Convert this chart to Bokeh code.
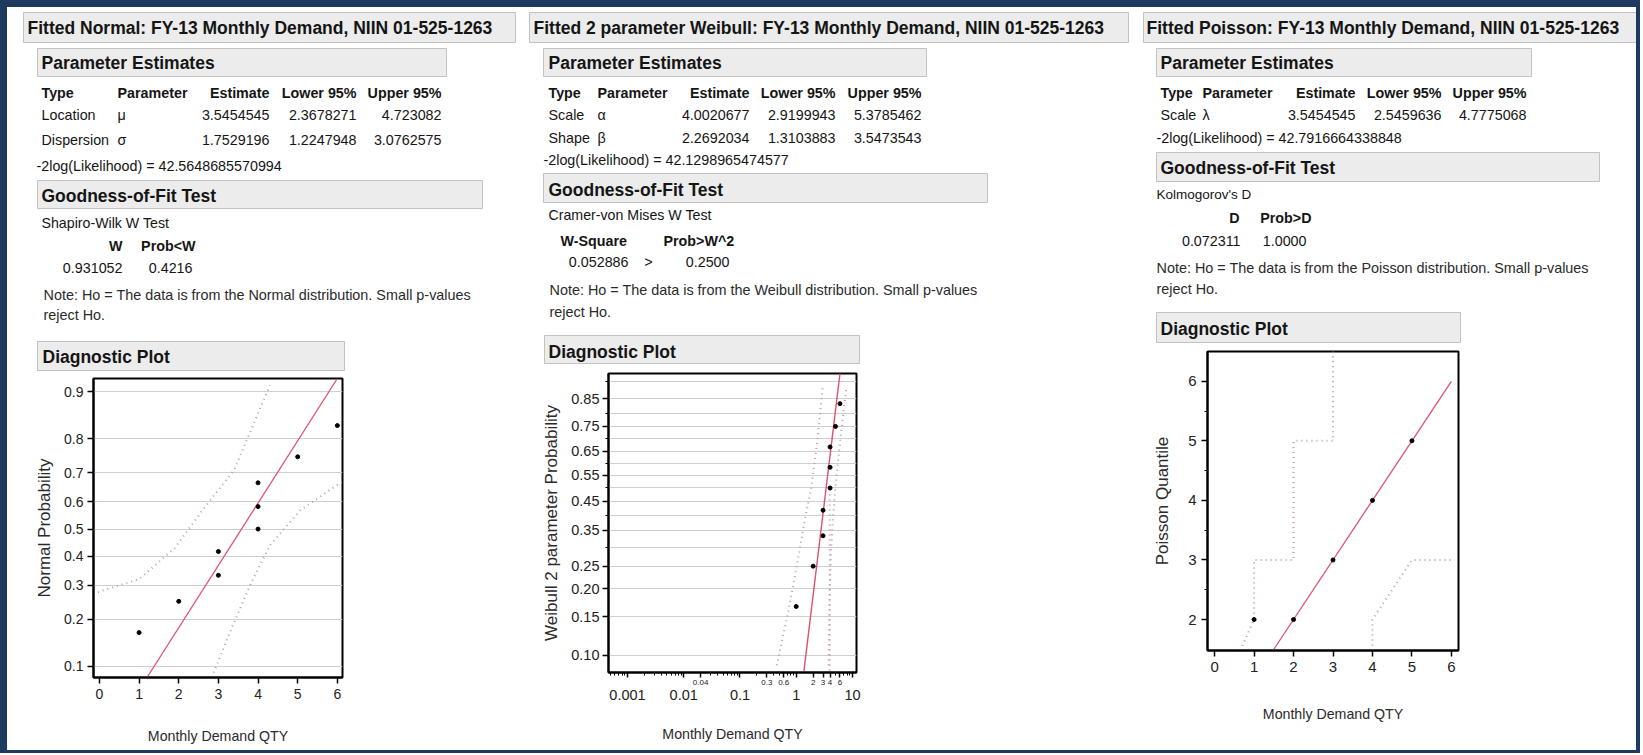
import math
from bokeh.plotting import figure
from bokeh.models import Range1d, FixedTicker, Label, LogAxis
from bokeh.layouts import row, column
from bokeh.embed import file_html
from bokeh.resources import INLINE

# ---------------- data ----------------
panel_titles = [
    "Fitted Normal:  FY-13 Monthly Demand,  NIIN 01-525-1263",
    "Fitted 2 parameter Weibull:  FY-13 Monthly Demand,  NIIN 01-525-1263",
    "Fitted Poisson:  FY-13 Monthly Demand,  NIIN 01-525-1263",
]
section_titles = ["Parameter Estimates", "Goodness-of-Fit Test", "Diagnostic Plot"]
table_header = ["Type", "Parameter", "Estimate", "Lower 95%", "Upper 95%"]
normal_params = [["Location", "μ", "3.5454545", "2.3678271", "4.723082"],
                 ["Dispersion", "σ", "1.7529196", "1.2247948", "3.0762575"]]
weibull_params = [["Scale", "α", "4.0020677", "2.9199943", "5.3785462"],
                  ["Shape", "β", "2.2692034", "1.3103883", "3.5473543"]]
poisson_params = [["Scale", "λ", "3.5454545", "2.5459636", "4.7775068"]]
neg2loglik = ["42.5648685570994", "42.1298965474577", "42.7916664338848"]
gof_test_names = ["Shapiro-Wilk W Test", "Cramer-von Mises W Test", "Kolmogorov's D"]
normal_gof_head = ["W", "Prob<W"]
normal_gof_vals = ["0.931052", "0.4216"]
weibull_gof_head = ["W-Square", "Prob>W^2"]
weibull_gof_vals = ["0.052886", ">", "0.2500"]
poisson_gof_head = ["D", "Prob>D"]
poisson_gof_vals = ["0.072311", "1.0000"]
dist_names = ["Normal", "Weibull", "Poisson"]
x_axis_title = "Monthly Demand QTY"
y_axis_titles = ["Normal Probability", "Weibull 2 parameter Probability", "Poisson Quantile"]

# Normal diagnostic plot
demand_qty = [1, 2, 3, 3, 4, 4, 4, 5, 6]
normal_prob = [0.167, 0.250, 0.333, 0.417, 0.500, 0.583, 0.667, 0.750, 0.833]
normal_fit_qty = [1.2, 6.0]
normal_fit_prob = [0.083, 0.920]
normal_upper_qty = [-0.15, 0.0, 1.0, 1.9, 2.6, 3.4, 4.0, 4.3]
normal_upper_prob = [0.27, 0.28, 0.32, 0.43, 0.57, 0.71, 0.86, 0.91]
normal_lower_qty = [2.88, 3.3, 3.8, 4.3, 5.07, 6.0, 6.13]
normal_lower_prob = [0.09, 0.17, 0.30, 0.44, 0.57, 0.66, 0.67]
normal_prob_ticks = [0.1, 0.2, 0.3, 0.4, 0.5, 0.6, 0.7, 0.8, 0.9]
normal_prob_range = [0.083, 0.920]
normal_qty_range = [-0.15, 6.13]
qty_ticks = [0, 1, 2, 3, 4, 5, 6]

# Weibull diagnostic plot
weibull_qty = [1, 2, 3, 3, 4, 4, 4, 5, 6]
weibull_prob = [0.167, 0.250, 0.333, 0.417, 0.500, 0.583, 0.667, 0.750, 0.833]
weibull_fit_qty = [1.36, 6.0]
weibull_fit_prob = [0.083, 0.919]
weibull_band1_qty = [0.45, 0.71, 1.04, 1.41, 1.85, 2.43, 2.98]
weibull_band1_prob = [0.09, 0.155, 0.256, 0.38, 0.50, 0.71, 0.89]
weibull_band2_qty = [3.76, 3.92, 4.19, 4.80, 5.51, 6.31, 7.74]
weibull_band2_prob = [0.09, 0.18, 0.30, 0.465, 0.60, 0.73, 0.88]
weibull_band3_qty = [3.95, 3.95]
weibull_band3_prob = [0.085, 0.50]
weibull_prob_ticks = [0.10, 0.15, 0.20, 0.25, 0.35, 0.45, 0.55, 0.65, 0.75, 0.85]
weibull_prob_tick_text = ["0.10", "0.15", "0.20", "0.25", "0.35", "0.45", "0.55", "0.65", "0.75", "0.85"]
weibull_prob_minor = [0.30, 0.40, 0.50, 0.60, 0.70, 0.80, 0.90]
weibull_prob_range = [0.0833, 0.919]
weibull_qty_range = [0.00046, 11.8]
weibull_qty_ticks = [0.001, 0.01, 0.1, 1, 10]
weibull_qty_tick_text = ["0.001", "0.01", "0.1", "1", "10"]
weibull_small_tick_pos = [0.02, 0.3, 0.6, 2, 3, 4, 6]
weibull_small_tick_text = ["0.04", "0.3", "0.6", "2", "3", "4", "6"]

# Poisson diagnostic plot
poisson_qty = [1, 2, 3, 4, 5]
poisson_quantile = [2, 2, 3, 4, 5]
poisson_fit_qty = [1.48, 6.0]
poisson_fit_quantile = [1.48, 6.0]
poisson_upper_qty = [0.65, 1, 1, 2, 2, 3, 3]
poisson_upper_quantile = [1.48, 2, 3, 3, 5, 5, 6.5]
poisson_lower_qty = [4, 4, 5, 6]
poisson_lower_quantile = [1.48, 2, 3, 3]
poisson_ticks = [2, 3, 4, 5, 6]
poisson_minor = [2.5, 3.5, 4.5, 5.5]
poisson_quantile_range = [1.48, 6.5]
poisson_qty_range = [-0.18, 6.18]

# ---------------- styles ----------------
FONT = "Liberation Sans"
NAVY = "#1E3A5F"
RED = "#E0506F"
BAND = "#BE9AA6"
GRID = "#CFCFCF"
BOX_FILL = "#ECECEC"
BOX_LINE = "#C2C2C2"
DASH = "1 4"
BASE_SHIFT = 6  # baseline correction for label rendering


def norm_ppf(p):
    lo, hi = -10.0, 10.0
    for _ in range(200):
        mid = 0.5 * (lo + hi)
        if 0.5 * (1.0 + math.erf(mid / math.sqrt(2.0))) < p:
            lo = mid
        else:
            hi = mid
    return round(0.5 * (lo + hi), 6)


def weib(p):
    return round(math.log(-math.log(1.0 - p)), 6)


def T(p, x, y, s, size=14.3, bold=False, align="left", color="#151515"):
    p.add_layout(Label(x=x, y=y - BASE_SHIFT, text=s, text_font=FONT, text_font_size=f"{size}px",
                       text_font_style="bold" if bold else "normal", text_align=align,
                       text_baseline="alphabetic", text_color=color))


def box(p, l, t, r, b):
    p.quad(left=[l], right=[r], top=[t], bottom=[b], fill_color=BOX_FILL,
           line_color=BOX_LINE, line_width=1)


def text_fig(x0, y0, w, h):
    p = figure(width=w, height=h, x_range=Range1d(x0, x0 + w), y_range=Range1d(y0 + h, y0),
               x_axis_type=None, y_axis_type=None, toolbar_location=None,
               output_backend="svg", title=None, min_border=0, frame_align=False)
    p.outline_line_color = None
    p.background_fill_color = "white"
    p.border_fill_color = "white"
    return p


def param_table(p, cols, hdr_y, row_ys, rows):
    aligns = ["left", "left", "right", "right", "right"]
    for c, a, s in zip(cols, aligns, table_header):
        T(p, c, hdr_y, s, 14.3, True, a)
    for y, r in zip(row_ys, rows):
        for c, a, s in zip(cols, aligns, r):
            T(p, c, y, s, 14.3, False, a)


def style_axis(ax, size="14px"):
    ax.axis_line_width = 2
    ax.axis_line_color = "black"
    ax.major_tick_line_width = 1.5
    ax.major_tick_line_color = "black"
    ax.major_tick_in = 0
    ax.major_tick_out = 6
    ax.minor_tick_line_color = None
    ax.major_label_text_font = FONT
    ax.major_label_text_font_size = size
    ax.major_label_text_color = "#222222"
    ax.axis_label_text_font = FONT
    ax.axis_label_text_font_style = "normal"
    ax.axis_label_text_color = "#2A2A2A"


def plot_fig(w, h, bl, br, bt, bb, xr, yr, x_axis_type="linear"):
    p = figure(width=w, height=h, x_range=Range1d(*xr), y_range=Range1d(*yr),
               x_axis_type=x_axis_type, toolbar_location=None, output_backend="svg",
               title=None, min_border_left=bl, min_border_right=br,
               min_border_top=bt, min_border_bottom=bb, frame_align=False)
    p.outline_line_color = "black"
    p.outline_line_width = 2
    p.background_fill_color = "white"
    p.border_fill_color = "white"
    for ax in p.axis:
        style_axis(ax)
    p.xgrid.grid_line_color = None
    p.ygrid.grid_line_color = None
    return p


# ---------------- panel 1 : Normal ----------------
t1 = text_fig(7, 7, 513, 365)
box(t1, 23, 12, 515, 42)
T(t1, 27, 33, panel_titles[0], 17.5, True)
box(t1, 37, 48, 446, 76)
T(t1, 41, 68, section_titles[0], 17.5, True)
param_table(t1, [41, 117, 269, 356, 441], 98, [120, 145], normal_params)
T(t1, 36, 171, "-2log(Likelihood) = " + neg2loglik[0])
box(t1, 37, 180, 482, 208)
T(t1, 41, 201, section_titles[1], 17.5, True)
T(t1, 41, 228, gof_test_names[0], 14.2)
T(t1, 122, 251, normal_gof_head[0], 14.3, True, "right")
T(t1, 195, 251, normal_gof_head[1], 14.3, True, "right")
T(t1, 122, 273, normal_gof_vals[0], 14.3, False, "right")
T(t1, 192, 273, normal_gof_vals[1], 14.3, False, "right")
T(t1, 43, 300, f"Note: Ho = The data is from the {dist_names[0]} distribution. Small p-values", 14.4, color="#2A2A2A")
T(t1, 43, 320, "reject Ho.", 14.4, color="#2A2A2A")
box(t1, 37, 341, 344, 370)
T(t1, 42, 362, section_titles[2], 17.5, True)

p1 = plot_fig(513, 378, 86, 178, 6, 73, normal_qty_range,
              [norm_ppf(normal_prob_range[0]), norm_ppf(normal_prob_range[1])])
p1.ygrid.grid_line_color = GRID
zt = [norm_ppf(v) for v in normal_prob_ticks]
p1.yaxis.ticker = FixedTicker(ticks=zt)
p1.yaxis.major_label_overrides = {z: f"{v:.1f}" for z, v in zip(zt, normal_prob_ticks)}
p1.xaxis.ticker = FixedTicker(ticks=qty_ticks)
p1.xaxis.axis_label = x_axis_title
p1.xaxis.axis_label_text_font_size = "14.2px"
p1.xaxis.axis_label_standoff = 26
p1.yaxis.axis_label = y_axis_titles[0]
p1.yaxis.axis_label_text_font_size = "17px"
p1.yaxis.axis_label_standoff = 7
p1.yaxis.major_label_standoff = 4
p1.line(normal_upper_qty, [norm_ppf(v) for v in normal_upper_prob], color=BAND, line_width=2, line_dash=DASH)
p1.line(normal_lower_qty, [norm_ppf(v) for v in normal_lower_prob], color=BAND, line_width=2, line_dash=DASH)
p1.line(normal_fit_qty, [norm_ppf(v) for v in normal_fit_prob], color=RED, line_width=1.3)
p1.scatter(demand_qty, [norm_ppf(v) for v in normal_prob], size=4, color="black")

# ---------------- panel 2 : Weibull ----------------
t2 = text_fig(520, 7, 615, 360)
box(t2, 529, 12, 1128, 42)
T(t2, 533, 33, panel_titles[1], 17.5, True)
box(t2, 543, 48, 926, 76)
T(t2, 548, 68, section_titles[0], 17.5, True)
param_table(t2, [548, 597, 749, 835, 921], 98, [120, 143], weibull_params)
T(t2, 543, 165, "-2log(Likelihood) = " + neg2loglik[1])
box(t2, 543, 173, 987, 202)
T(t2, 548, 195, section_titles[1], 17.5, True)
T(t2, 548, 220, gof_test_names[1], 14.2)
T(t2, 560, 246, weibull_gof_head[0], 14.3, True)
T(t2, 663, 246, weibull_gof_head[1], 14.3, True)
T(t2, 628, 267, weibull_gof_vals[0], 14.3, False, "right")
T(t2, 648, 267, weibull_gof_vals[1], 14.3, False, "center")
T(t2, 729, 267, weibull_gof_vals[2], 14.3, False, "right")
T(t2, 549, 295, f"Note: Ho = The data is from the {dist_names[1]} distribution. Small p-values", 14.4, color="#2A2A2A")
T(t2, 549, 317, "reject Ho.", 14.4, color="#2A2A2A")
box(t2, 544, 335, 859, 363)
T(t2, 548, 357, section_titles[2], 17.5, True)

w_lo, w_hi = weib(weibull_prob_range[0]), weib(weibull_prob_range[1])
p2 = plot_fig(615, 383, 88, 279, 6, 78, weibull_qty_range, [w_lo, w_hi], x_axis_type="log")
p2.ygrid.grid_line_color = GRID
p2.ygrid.minor_grid_line_color = GRID
wt = [weib(v) for v in weibull_prob_ticks]
p2.yaxis.ticker = FixedTicker(ticks=wt, minor_ticks=[weib(v) for v in weibull_prob_minor])
p2.yaxis.major_label_overrides = {w: s for w, s in zip(wt, weibull_prob_tick_text)}
p2.yaxis.minor_tick_line_color = "black"
p2.yaxis.minor_tick_in = 0
p2.yaxis.minor_tick_out = 3
p2.yaxis.major_label_standoff = 3
p2.yaxis.major_label_text_font_size = "14.5px"
p2.yaxis.axis_label = y_axis_titles[1]
p2.yaxis.axis_label_text_font_size = "17px"
p2.yaxis.axis_label_standoff = 7
# inner x axis: tick marks plus the small in-between labels
xminor = [k * d for d in [0.0001, 0.001, 0.01, 0.1, 1] for k in range(2, 10)
          if weibull_qty_range[0] < k * d < weibull_qty_range[1]]
ax_in = p2.xaxis[0]
ax_in.ticker = FixedTicker(ticks=weibull_qty_ticks + weibull_small_tick_pos, minor_ticks=xminor)
small_over = {v: " " for v in weibull_qty_ticks}
small_over.update({v: s for v, s in zip(weibull_small_tick_pos, weibull_small_tick_text)})
ax_in.major_label_overrides = small_over
ax_in.major_label_text_font_size = "8px"
ax_in.major_label_standoff = 0
ax_in.major_tick_out = 5
ax_in.minor_tick_line_color = "black"
ax_in.minor_tick_in = 0
ax_in.minor_tick_out = 3
# outer x axis: decade labels and the title
ax_out = LogAxis(ticker=FixedTicker(ticks=weibull_qty_ticks),
                 major_label_overrides={v: s for v, s in zip(weibull_qty_ticks, weibull_qty_tick_text)})
style_axis(ax_out, "14.5px")
ax_out.axis_line_color = None
ax_out.major_tick_line_color = None
ax_out.major_tick_out = 0
ax_out.major_label_standoff = 0
ax_out.axis_label = x_axis_title
ax_out.axis_label_text_font_size = "14.2px"
ax_out.axis_label_standoff = 23
p2.add_layout(ax_out, "below")
p2.line(weibull_band1_qty, [weib(v) for v in weibull_band1_prob], color=BAND, line_width=2, line_dash=DASH)
p2.line(weibull_band2_qty, [weib(v) for v in weibull_band2_prob], color=BAND, line_width=2, line_dash=DASH)
p2.line(weibull_band3_qty, [weib(v) for v in weibull_band3_prob], color=BAND, line_width=2, line_dash=DASH)
p2.line(weibull_fit_qty, [weib(v) for v in weibull_fit_prob], color=RED, line_width=1.4)
p2.scatter(weibull_qty, [weib(v) for v in weibull_prob], size=4, color="black")

# ---------------- panel 3 : Poisson ----------------
t3 = text_fig(1135, 7, 501, 338)
box(t3, 1143, 12, 1640, 42)
T(t3, 1146, 33, panel_titles[2], 17.5, True)
box(t3, 1156, 48, 1531, 76)
T(t3, 1160, 68, section_titles[0], 17.5, True)
param_table(t3, [1160, 1202, 1355, 1441, 1526], 98, [120], poisson_params)
T(t3, 1156, 143, "-2log(Likelihood) = " + neg2loglik[2])
box(t3, 1156, 152, 1599, 181)
T(t3, 1160, 173, section_titles[1], 17.5, True)
T(t3, 1156, 200, gof_test_names[2], 13.5)
T(t3, 1239, 223, poisson_gof_head[0], 14.3, True, "right")
T(t3, 1311, 223, poisson_gof_head[1], 14.3, True, "right")
T(t3, 1240, 246, poisson_gof_vals[0], 14.3, False, "right")
T(t3, 1306, 246, poisson_gof_vals[1], 14.3, False, "right")
T(t3, 1156, 273, f"Note: Ho = The data is from the {dist_names[2]} distribution. Small p-values", 14.4, color="#2A2A2A")
T(t3, 1156, 294, "reject Ho.", 14.4, color="#2A2A2A")
box(t3, 1156, 312, 1460, 342)
T(t3, 1160, 334, section_titles[2], 17.5, True)

p3 = plot_fig(501, 405, 72, 178, 6, 100, poisson_qty_range, poisson_quantile_range)
p3.yaxis.ticker = FixedTicker(ticks=poisson_ticks, minor_ticks=poisson_minor)
p3.yaxis.minor_tick_line_color = "black"
p3.yaxis.minor_tick_in = 0
p3.yaxis.minor_tick_out = 3
p3.xaxis.ticker = FixedTicker(ticks=qty_ticks)
for ax in p3.axis:
    ax.major_label_text_font_size = "15px"
p3.xaxis.axis_label = x_axis_title
p3.xaxis.axis_label_text_font_size = "14.2px"
p3.xaxis.axis_label_standoff = 31
p3.yaxis.axis_label = y_axis_titles[2]
p3.yaxis.axis_label_text_font_size = "17px"
p3.yaxis.axis_label_standoff = 13
p3.line(poisson_upper_qty, poisson_upper_quantile, color=BAND, line_width=2, line_dash=DASH)
p3.line(poisson_lower_qty, poisson_lower_quantile, color=BAND, line_width=2, line_dash=DASH)
p3.line(poisson_fit_qty, poisson_fit_quantile, color=RED, line_width=1.3)
p3.scatter(poisson_qty, poisson_quantile, size=4, color="black")

# ---------------- layout ----------------
inner = row(column(t1, p1), column(t2, p2), column(t3, p3), styles={"background-color": "white"})
page = column(inner, styles={"background-color": NAVY, "padding": "7px 4px 3px 7px"})

open("out.html", "w").write(file_html(page, INLINE))
